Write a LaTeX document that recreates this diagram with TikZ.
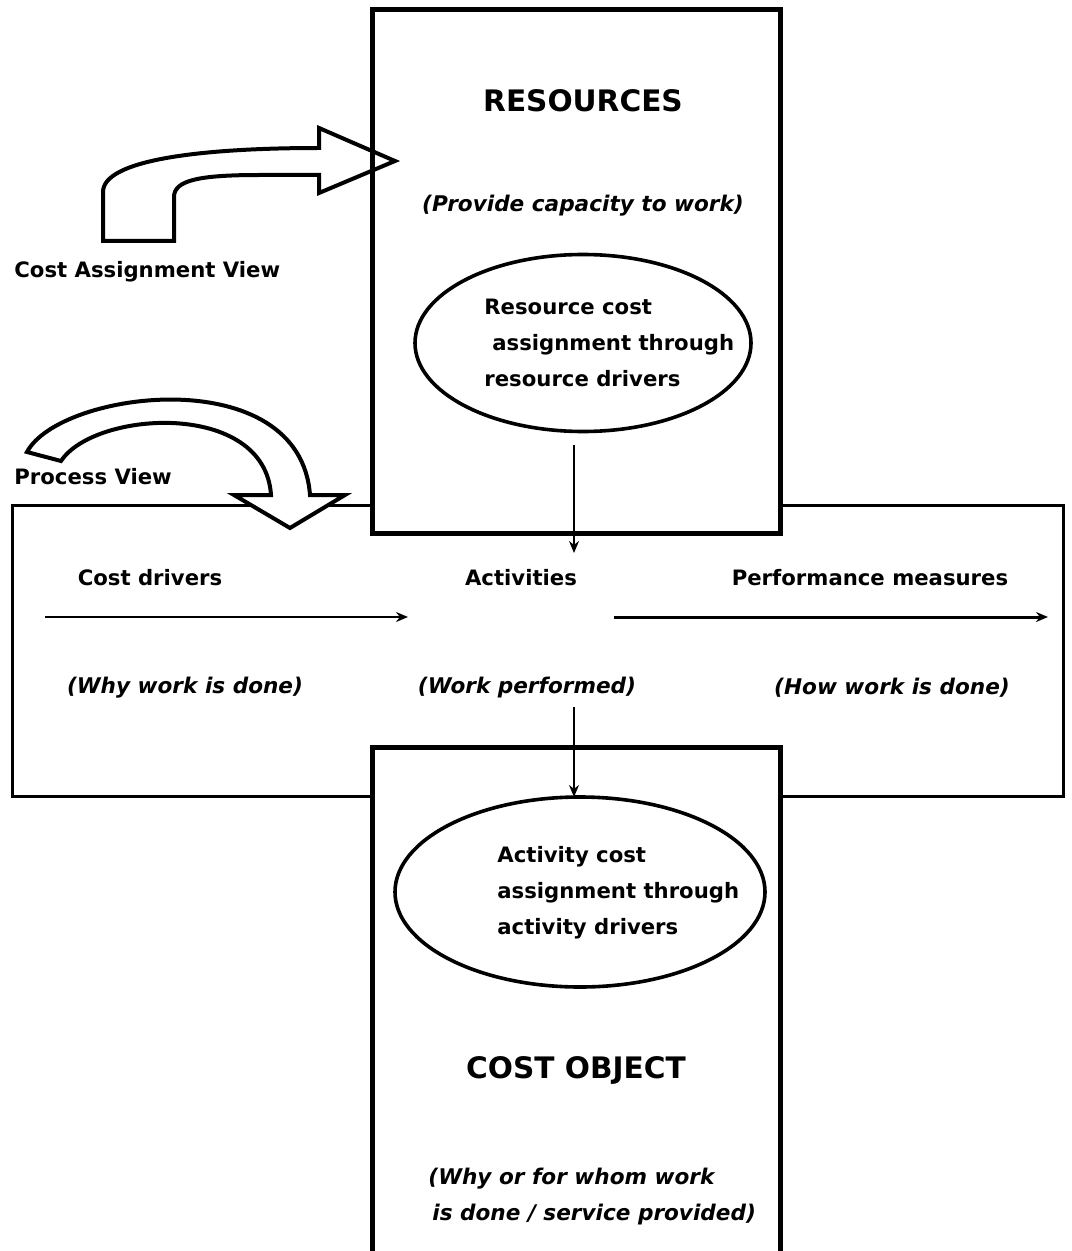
\documentclass[tikz,border=0pt]{standalone}
\usepackage{fontspec}
\setmainfont{DejaVu Sans}
\usetikzlibrary{shapes.geometric,arrows.meta}

\tikzset{
  lbl/.style={font=\bfseries\fontsize{10.6}{18}\selectfont, inner sep=0pt},
  itl/.style={font=\bfseries\itshape\fontsize{10.8}{18}\selectfont, inner sep=0pt},
  big/.style={font=\bfseries\fontsize{14.8}{17}\selectfont, inner sep=0pt},
  heavy/.style={line width=2.5pt},
  frame/.style={line width=1.5pt},
  ell/.style={draw, ellipse, line width=1.8pt, inner sep=0pt},
  blockarrow/.style={draw, fill=white, line width=2pt, line join=miter},
  flow/.style={-{Stealth[length=6pt,width=5pt]}, line width=0.7pt}
}

\begin{document}
\begin{tikzpicture}[x=0.5pt,y=-0.5pt]
\useasboundingbox (0,0) rectangle (1071,1251);

% process frame
\draw[frame] (372,505) -- (12,505) -- (12,796) -- (372,796);
\draw[frame] (780,505) -- (1063,505) -- (1063,796) -- (780,796);

% view arrows
\draw[blockarrow] (103,241) -- (103,192) .. controls (103,160) and (200,148) .. (319,148)
  -- (319,128) -- (395,161) -- (319,193) -- (319,175) -- (260,175)
  .. controls (200,175) and (174,180) .. (174,197) -- (174,241) -- cycle;
\draw[blockarrow] (27,452) .. controls (60,390) and (300,360) .. (310,495)
  -- (345,495) -- (290,528) -- (234,495) -- (271,495)
  .. controls (265,400) and (95,410) .. (61,461) -- cycle;

% resources and cost object
\draw[heavy] (372,533) rectangle (780,10);
\draw[heavy] (372,1260) -- (372,747) -- (780,747) -- (780,1260);

\node[lbl, anchor=west] (cav) at (14,272) {Cost Assignment View};
\node[lbl, anchor=west] (pv) at (14,477) {Process View};

\node[big] (res) at (583,101) {RESOURCES};
\node[itl] (resnote) at (583,206) {(Provide capacity to work)};
\node[ell, minimum width=168pt, minimum height=88.5pt] (resell) at (583,343) {};
\node[lbl, anchor=west, align=left] (restxt) at (484,343)
  {Resource cost\\\hspace*{4pt}assignment through\\resource drivers};

\node[lbl] (cd) at (150,578) {Cost drivers};
\node[lbl] (act) at (521,578) {Activities};
\node[lbl] (pm) at (870,578) {Performance measures};
\node[itl] (why) at (185,688) {(Why work is done)};
\node[itl] (wp) at (527,688) {(Work performed)};
\node[itl] (how) at (892,688) {(How work is done)};

\node[ell, minimum width=185pt, minimum height=95pt] (actell) at (580,892) {};
\node[lbl, anchor=west, align=left] (acttxt) at (497,893)
  {Activity cost\\assignment through\\activity drivers};

\node[big] (co) at (576,1070) {COST OBJECT};
\node[itl, anchor=west, align=left] (conote) at (428,1197)
  {(Why or for whom work\\\hspace*{2pt}is done / service provided)};

% connectors
\coordinate (r1) at (574,445);
\coordinate (r2) at (574,553);
\coordinate (a1) at (574,707);
\coordinate (a2) at (574,797);
\coordinate (c1) at (45,617);
\coordinate (c2) at (408,617);
\coordinate (p1) at (614,617);
\coordinate (p2) at (1048,617);
\draw[flow] (r1) -- (r2);
\draw[flow] (a1) -- (a2);
\draw[flow, line width=1pt] (c1) -- (c2);
\draw[flow, line width=1.5pt] (p1) -- (p2);
\end{tikzpicture}
\end{document}
